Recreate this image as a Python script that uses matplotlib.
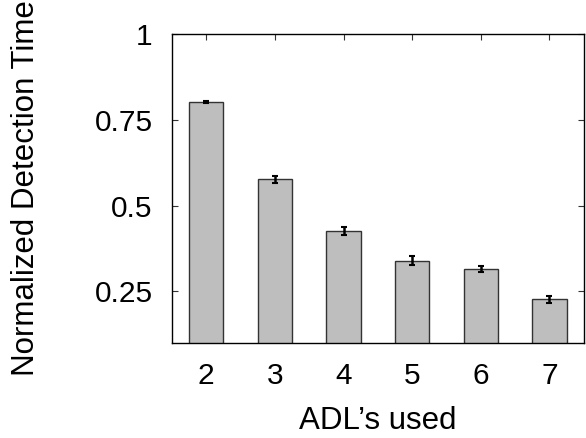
import matplotlib
matplotlib.use("Agg")
import matplotlib.pyplot as plt

adls = [2, 3, 4, 5, 6, 7]
values = [0.802, 0.577, 0.426, 0.340, 0.315, 0.227]
errors = [0.002, 0.010, 0.012, 0.012, 0.009, 0.010]
yticks = [0.25, 0.5, 0.75, 1.0]
ytick_labels = ["0.25", "0.5", "0.75", "1"]

plt.rcParams['font.family'] = ['Liberation Sans', 'DejaVu Sans']

fig = plt.figure(figsize=(5.86, 4.38), dpi=100)
ax = fig.add_axes([0.2935, 0.2169, 0.996 - 0.2935, 0.9224 - 0.2169])

ax.bar(adls, values, width=0.5, color='#bebebe', edgecolor='#333333', linewidth=1.0, zorder=2)
ax.errorbar(adls, values, yerr=errors, fmt='none', ecolor='black', elinewidth=1.8,
            capsize=2, capthick=1.5, zorder=3)

ax.set_xlim(1.5, 7.5)
ax.set_ylim(0.1, 1.0)
ax.set_xticks(adls)
ax.set_xticklabels([str(a) for a in adls])
ax.set_yticks(yticks)
ax.set_yticklabels(ytick_labels)

ax.tick_params(axis='both', direction='in', length=4, width=0.8, labelsize=21.5,
               top=True, right=True, colors='#333333', labelcolor='black')
ax.tick_params(axis='y', pad=14)
ax.tick_params(axis='x', pad=14)

for s in ax.spines.values():
    s.set_linewidth(1.0)
    s.set_color('black')

ax.set_xlabel("ADL’s used", fontsize=22.5, labelpad=11)
ax.set_ylabel("Normalized Detection Time", fontsize=22.5)
ax.yaxis.set_label_coords(-0.318, 0.5)

fig.savefig("out.png", dpi=100)
